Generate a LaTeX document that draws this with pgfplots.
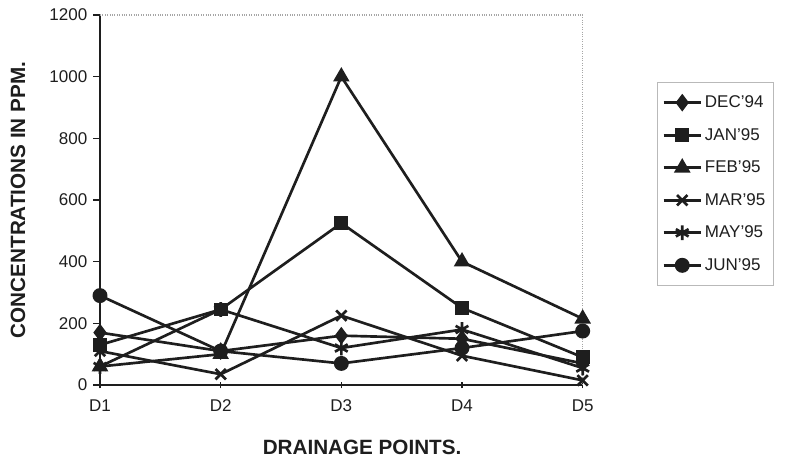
\documentclass[border=0pt]{standalone}
\usepackage{pgfplots}
\pgfplotsset{compat=1.18}
\usepackage{fontspec}
\setmainfont{Liberation Sans}
\definecolor{ink}{HTML}{1E1E1E}
\newcommand\tickfont{\fontsize{12.75}{15}\selectfont}
\begin{document}
\begin{tikzpicture}[font=\tickfont]
\path[use as bounding box] (0,0) rectangle (601.5pt,346.5pt);
\begin{axis}[
  at={(75pt,57.75pt)}, anchor=south west,
  scale only axis, width=362pt, height=277.5pt,
  xmin=0, xmax=4, ymin=0, ymax=1200,
  xtick={0,1,2,3,4},
  xticklabels={{\tickfont D1},{\tickfont D2},{\tickfont D3},{\tickfont D4},{\tickfont D5}},
  ytick={0,200,...,1200},
  yticklabel={\tickfont\pgfmathprintnumber[assume math mode=true,set thousands separator={}]{\tick}},
  axis x line*=bottom, axis y line*=left,
  axis line style={ink, line width=0.8pt},
  major tick length=5pt,
  x tick style={ink, line width=0.8pt},
  y tick style={ink, line width=0.8pt},
  tick align=outside,
  xtick align=center,
  tick label style={text=ink},
  yticklabel style={xshift=-1pt},
  xticklabel style={yshift=-5pt},
  xlabel={\textbf{DRAINAGE POINTS.}},
  ylabel={\textbf{CONCENTRATIONS IN PPM.}},
  label style={font=\fontsize{15.5}{18}\selectfont, text=ink},
  xlabel style={at={(axis description cs:0.543,-0.168)}, anchor=center},
  ylabel style={at={(axis description cs:-0.170,0.5)}, anchor=center},
  clip=false,
  every axis plot/.append style={ink, line width=2pt},
  legend image code/.code={\draw[mark repeat=2,mark phase=2] plot coordinates {(0pt,0pt) (14pt,0pt) (28pt,0pt)};},
  legend style={at={(rel axis cs:1.153,0.819)}, anchor=north west,
    draw=gray!55, line width=0.6pt, font=\tickfont,
    text=ink, row sep=10pt, inner xsep=4pt, inner ysep=8pt},
  legend cell align=left,
]
% plot frame: dotted top and right edges
\draw[gray!70, densely dotted, line width=0.8pt] (rel axis cs:0,1) -- (rel axis cs:1,1) -- (rel axis cs:1,0);

\addplot[mark=diamond*, mark size=5pt] coordinates {(0,170) (1,110) (2,160) (3,150) (4,70)};
\addlegendentry{DEC'94}
\addplot[mark=square*, mark size=4.2pt] coordinates {(0,130) (1,245) (2,525) (3,250) (4,90)};
\addlegendentry{JAN'95}
\addplot[mark=triangle*, mark size=5.2pt] coordinates {(0,60) (1,100) (2,1000) (3,400) (4,215)};
\addlegendentry{FEB'95}
\addplot[mark=x, mark size=5.5pt] coordinates {(0,110) (1,35) (2,225) (3,95) (4,15)};
\addlegendentry{MAR'95}
\addplot[mark=asterisk, mark size=5.5pt] coordinates {(0,60) (1,245) (2,120) (3,180) (4,55)};
\addlegendentry{MAY'95}
\addplot[mark=*, mark size=4.6pt] coordinates {(0,290) (1,110) (2,70) (3,120) (4,175)};
\addlegendentry{JUN'95}
\end{axis}
\end{tikzpicture}
\end{document}
